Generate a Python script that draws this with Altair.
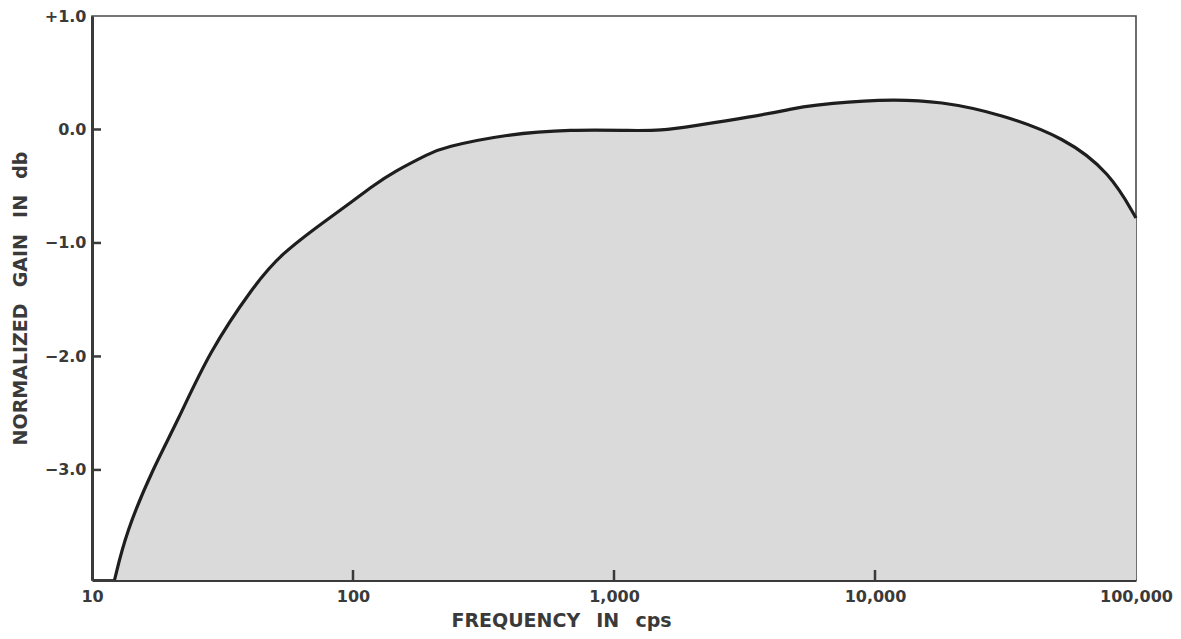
import altair as alt
import pandas as pd

# Curve (frequency in cps, normalized gain in db)
freq = [12.2, 13.5, 17.1, 21.4, 28.1, 41.6, 52.7, 78.9, 100, 118.5, 144, 197,
        220, 389, 682, 1187, 1500, 2000, 3342, 4808, 5500, 10500, 18070,
        30800, 53100, 79600, 100000]
gain = [-3.97, -3.55, -2.99, -2.56, -1.96, -1.38, -1.10, -0.80, -0.63, -0.50,
        -0.37, -0.21, -0.16, -0.04, 0.00, -0.01, -0.01, 0.03, 0.11, 0.18,
        0.21, 0.27, 0.25, 0.13, -0.07, -0.38, -0.78]

x_ticks = [10, 100, 1000, 10000, 100000]
x_inner_ticks = [100, 1000, 10000]
y_ticks = [1.0, 0.0, -1.0, -2.0, -3.0]
y_inner_ticks = [0.0, -1.0, -2.0, -3.0]
Y_MIN, Y_MAX = -3.97, 1.0
X_MIN, X_MAX = 10, 100000

W, H = 1044, 564
FONT = "DejaVu Sans"
INK = "#3a3a3a"
SP = "\u00a0\u2002"  # wide word gap (not collapsed by SVG)

df = pd.DataFrame({"freq": freq, "gain": gain})
xt = pd.DataFrame({"t": x_inner_ticks})
yt = pd.DataFrame({"t": y_inner_ticks})

xscale = alt.Scale(type="log", domain=[X_MIN, X_MAX], nice=False)
yscale = alt.Scale(domain=[Y_MIN, Y_MAX], nice=False, zero=False)

xaxis = alt.Axis(
    values=x_ticks, format=",d", ticks=False, grid=False,
    domainColor="#3a3a3a", domainWidth=3, labelFont=FONT, labelFontSize=16,
    labelFontWeight="bold", labelColor=INK, labelPadding=8, labelFlush=False,
    title=SP.join(["FREQUENCY", "IN", "cps"]), titleFont=FONT, titleFontSize=19,
    titleFontWeight="bold", titleColor=INK, titleX=469, titleY=46,
    titleBaseline="alphabetic",
)
yaxis = alt.Axis(
    values=y_ticks, ticks=False, grid=False,
    domainColor="#3a3a3a", domainWidth=3, labelFont=FONT, labelFontSize=16,
    labelFontWeight="bold", labelColor=INK, labelPadding=6,
    labelExpr="datum.value > 0 ? '+' + format(datum.value, '.1f') : (datum.value < 0 ? '\u2212' + format(-datum.value, '.1f') : '0.0')",
    title=SP.join(["NORMALIZED", "GAIN", "IN", "db"]), titleFont=FONT, titleFontSize=19,
    titleFontWeight="bold", titleColor=INK, titlePadding=14,
)

base = alt.Chart(df)

area = base.mark_area(color="#dadada", interpolate="basis").encode(
    x=alt.X("freq:Q", scale=xscale, axis=xaxis),
    y=alt.Y("gain:Q", scale=yscale, axis=yaxis),
    y2=alt.datum(Y_MIN),
)
line = base.mark_line(color="#1e1e1e", strokeWidth=3.2, interpolate="basis").encode(
    x=alt.X("freq:Q", scale=xscale),
    y=alt.Y("gain:Q", scale=yscale),
)
xtick_marks = alt.Chart(xt).mark_rule(color="#3a3a3a", strokeWidth=2.5).encode(
    x=alt.X("t:Q", scale=xscale),
    y=alt.value(H),
    y2=alt.value(H - 10),
)
ytick_marks = alt.Chart(yt).mark_rule(color="#3a3a3a", strokeWidth=2.5).encode(
    y=alt.Y("t:Q", scale=yscale),
    x=alt.value(0),
    x2=alt.value(9),
)

chart = (
    alt.layer(area, line, xtick_marks, ytick_marks)
    .properties(
        width=W, height=H,
        autosize=alt.AutoSizeParams(type="none"),
        padding={"left": 84, "top": 8, "right": 37, "bottom": 51},
        background="white",
    )
    .configure_view(stroke="#4a4a4a", strokeWidth=1.6)
)

chart.save("out.html", embed_options={"renderer": "svg", "actions": False})
